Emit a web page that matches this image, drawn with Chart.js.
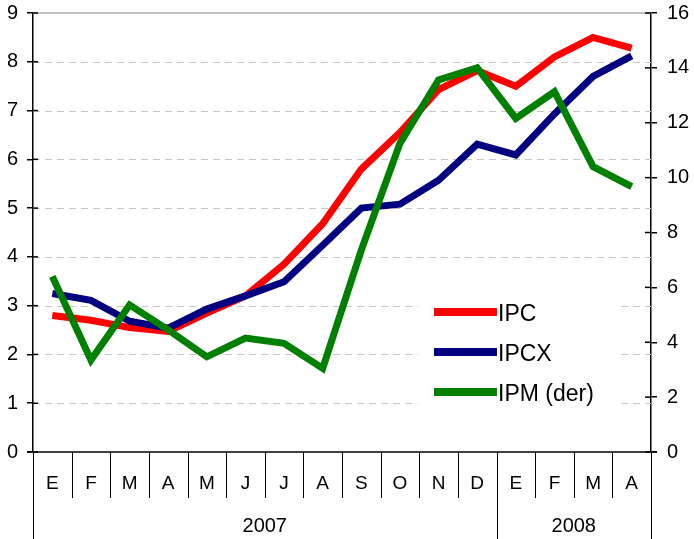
<!DOCTYPE html>
<html>
<head>
<meta charset="utf-8">
<script src="https://cdn.jsdelivr.net/npm/chart.js@4/dist/chart.umd.min.js"></script>
<style>
  html, body { margin: 0; padding: 0; background: #fff; }
  #wrap { width: 694px; height: 539px; }
</style>
</head>
<body>
<div id="wrap"><canvas id="chart" width="694" height="539"></canvas></div>
<script>
const months = ["E", "F", "M", "A", "M", "J", "J", "A", "S", "O", "N", "D", "E", "F", "M", "A"];
const yearLabels = ["2007", "2008"];
const yearSpans = [12, 4];

const ipc = [2.8, 2.7, 2.55, 2.47, 2.85, 3.2, 3.85, 4.68, 5.8, 6.55, 7.43, 7.82, 7.5, 8.1, 8.5, 8.28];
const ipcx = [3.25, 3.11, 2.68, 2.54, 2.93, 3.2, 3.49, 4.24, 5.0, 5.08, 5.57, 6.31, 6.09, 6.93, 7.7, 8.12];
const ipm = [6.4, 3.35, 5.36, 4.45, 3.47, 4.15, 3.96, 3.05, 7.36, 11.25, 13.56, 14.0, 12.16, 13.13, 10.4, 9.67];

const leftTicks = [0, 9, 1];
const rightTicks = [0, 16, 2];

const FONT = "Liberation Sans, Arial, sans-serif";

const frame = {
  id: "frame",
  beforeDatasetsDraw(chart) {
    const { ctx, chartArea: a, scales } = chart;
    const y = scales.y;
    ctx.save();
    // dashed grid
    ctx.strokeStyle = "#c8c8c8";
    ctx.lineWidth = 1;
    ctx.setLineDash([7, 5]);
    for (let v = leftTicks[0] + 1; v < leftTicks[1]; v += leftTicks[2]) {
      const py = Math.round(y.getPixelForValue(v)) + 0.5;
      ctx.beginPath();
      ctx.moveTo(a.left, py);
      ctx.lineTo(a.right, py);
      ctx.stroke();
    }
    ctx.setLineDash([]);
    ctx.strokeStyle = "#c0c0c0";
    ctx.lineWidth = 2;
    ctx.beginPath();
    ctx.moveTo(a.left, a.top);
    ctx.lineTo(a.right, a.top);
    ctx.stroke();
    ctx.restore();
  },
  afterDraw(chart) {
    const { ctx, chartArea: a, scales } = chart;
    const x = scales.x;
    const step = x.getPixelForValue(1) - x.getPixelForValue(0);
    ctx.save();

    // inner halves of the cross ticks
    ctx.strokeStyle = "#000";
    ctx.lineWidth = 1.5;
    for (let v = leftTicks[0]; v <= leftTicks[1]; v += leftTicks[2]) {
      const py = scales.y.getPixelForValue(v);
      ctx.beginPath();
      ctx.moveTo(a.left, py);
      ctx.lineTo(a.left + 5, py);
      ctx.stroke();
    }
    for (let v = rightTicks[0]; v <= rightTicks[1]; v += rightTicks[2]) {
      const py = scales.y2.getPixelForValue(v);
      ctx.beginPath();
      ctx.moveTo(a.right - 6, py);
      ctx.lineTo(a.right, py);
      ctx.stroke();
    }

    // x axis line
    ctx.beginPath();
    ctx.moveTo(a.left - 6, a.bottom);
    ctx.lineTo(a.right + 6, a.bottom);
    ctx.stroke();

    const yearEdges = [0];
    yearSpans.forEach(s => yearEdges.push(yearEdges[yearEdges.length - 1] + s));

    ctx.lineWidth = 1;
    for (let i = 0; i <= months.length; i++) {
      const px = Math.round(x.getPixelForValue(i) - step / 2) + 0.5;
      const long = yearEdges.includes(i);
      ctx.beginPath();
      ctx.moveTo(px, a.bottom);
      ctx.lineTo(px, long ? 539 : a.bottom + 46);
      ctx.stroke();
    }

    ctx.fillStyle = "#000";
    ctx.font = "19px " + FONT;
    ctx.textAlign = "center";
    ctx.textBaseline = "middle";
    months.forEach((m, i) => {
      ctx.fillText(m, x.getPixelForValue(i), a.bottom + 32);
    });
    ctx.font = "20px " + FONT;
    yearLabels.forEach((lbl, k) => {
      const from = x.getPixelForValue(yearEdges[k]) - step / 2;
      const to = x.getPixelForValue(yearEdges[k + 1]) - step / 2;
      ctx.fillText(lbl, (from + to) / 2, a.bottom + 74);
    });

    // legend
    ctx.fillStyle = "#fff";
    ctx.fillRect(418, 292, 199, 118);
    ctx.font = "23px " + FONT;
    ctx.textAlign = "left";
    chart.data.datasets.forEach((ds, i) => {
      const ly = 312 + i * 40;
      ctx.strokeStyle = ds.borderColor;
      ctx.lineWidth = 8;
      ctx.beginPath();
      ctx.moveTo(434, ly);
      ctx.lineTo(497, ly);
      ctx.stroke();
      ctx.fillStyle = "#000";
      ctx.fillText(ds.label, 498, ly + 3);
    });
    ctx.restore();
  }
};

function fitY(width) {
  return s => {
    s.width = width;
    s.paddingTop = 0;
    s.paddingBottom = 0;
  };
}

new Chart(document.getElementById("chart"), {
  type: "line",
  data: {
    labels: months,
    datasets: [
      { label: "IPC", data: ipc, borderColor: "#ff0000", yAxisID: "y", order: 3 },
      { label: "IPCX", data: ipcx, borderColor: "#000080", yAxisID: "y", order: 2 },
      { label: "IPM (der)", data: ipm, borderColor: "#008000", yAxisID: "y2", order: 1 }
    ]
  },
  options: {
    responsive: false,
    animation: false,
    layout: { padding: { top: 13, bottom: 87, left: 0, right: 0 } },
    elements: {
      line: { borderWidth: 7, tension: 0, borderJoinStyle: "miter", borderCapStyle: "butt" },
      point: { radius: 0 }
    },
    plugins: { legend: { display: false }, tooltip: { enabled: false } },
    scales: {
      x: { display: false, offset: true },
      y: {
        position: "left",
        min: leftTicks[0], max: leftTicks[1],
        afterFit: fitY(33),
        ticks: { stepSize: leftTicks[2], color: "#000", padding: 9, font: { family: FONT, size: 20 } },
        grid: { drawOnChartArea: false, color: "#000", tickLength: 6, lineWidth: 1.5 },
        border: { color: "#000", width: 1.5 }
      },
      y2: {
        position: "right",
        min: rightTicks[0], max: rightTicks[1],
        afterFit: fitY(43),
        ticks: { stepSize: rightTicks[2], color: "#000", padding: 10, font: { family: FONT, size: 20 } },
        grid: { drawOnChartArea: false, color: "#000", tickLength: 6, lineWidth: 1.5 },
        border: { color: "#000", width: 1.5 }
      }
    }
  },
  plugins: [frame]
});
</script>
</body>
</html>
